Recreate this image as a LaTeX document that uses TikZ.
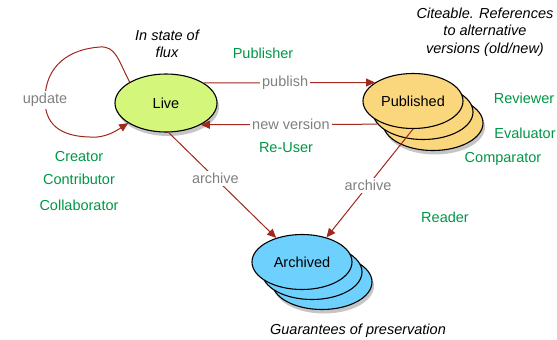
\documentclass[tikz,border=0pt]{standalone}
\usepackage{fontspec}
\setmainfont{Liberation Sans}
\usetikzlibrary{arrows.meta,shapes.geometric,shadows}
\definecolor{livegreen}{RGB}{212,246,122}
\definecolor{pubyellow}{RGB}{250,214,124}
\definecolor{archblue}{RGB}{110,208,252}
\definecolor{arcred}{RGB}{160,40,28}
\definecolor{rolegreen}{RGB}{0,150,70}
\definecolor{labgray}{RGB}{128,128,128}
\begin{document}
\begin{tikzpicture}[x=1pt,y=-1pt,
  every node/.style={font=\fontsize{14.5}{17.5}\selectfont},
  state/.style={ellipse,draw=black,line width=1.1pt,minimum width=100pt,minimum height=55pt,inner sep=0pt},
  shade/.style={drop shadow={shadow xshift=2pt,shadow yshift=-4pt,fill=black!45,opacity=.5}},
  arr/.style={draw=arcred,line width=1pt,-{Triangle[length=9pt,width=8pt]}},
  lab/.style={fill=white,text=labgray,inner sep=2pt},
  role/.style={text=rolegreen},
  note/.style={font=\fontsize{14.5}{17.5}\selectfont\itshape,align=center}]
\useasboundingbox (0,0) rectangle (557,340);
\node[state,fill=livegreen,shade,minimum width=102pt,minimum height=58pt] (live) at (166,103) {Live};
\node[state,fill=pubyellow,shade] (pub3) at (433,123) {};
\node[state,fill=pubyellow] (pub2) at (423,112) {};
\node[state,fill=pubyellow] (pub) at (413,101) {Published};
\node[state,fill=archblue,shade] (arch3) at (322,282) {};
\node[state,fill=archblue] (arch2) at (312,272) {};
\node[state,fill=archblue] (arch) at (302,262) {Archived};

\draw[arr] (live.28) -- node[lab,pos=.475]{publish} (pub.154);
\draw[arr] (pub2.195) -- node[lab,pos=.49]{new version} (live.-32);
\draw[arr] (live.-85) -- node[lab,pos=.435]{archive} (arch.137);
\draw[arr] (pub.south) -- node[lab,pos=.52]{archive} (arch.45);
\draw[arr] (live.150) .. controls (118,60) and (116,46) .. (100,47)
  .. controls (70,49) and (45,65) .. (45,100) node[lab]{update}
  .. controls (45,128) and (65,138) .. (97,137)
  .. controls (108,136) and (116,131) .. (live.208);

\node[note] (flux) at (167,44) {In state of\\flux};
\node[note] (cite) at (485,32) {Citeable. References\\to alternative\\versions (old/new)};
\node[note] (guar) at (358,331) {Guarantees of preservation};

\node[role] (publisher) at (263,53) {Publisher};
\node[role] (reuser) at (286,148) {Re-User};
\node[role] (reviewer) at (524,98) {Reviewer};
\node[role] (evaluator) at (525,133) {Evaluator};
\node[role] (comparator) at (503,159) {Comparator};
\node[role] (creator) at (79,157) {Creator};
\node[role] (contributor) at (79,179) {Contributor};
\node[role] (collaborator) at (79,205) {Collaborator};
\node[role] (reader) at (445,217) {Reader};
\end{tikzpicture}
\end{document}
